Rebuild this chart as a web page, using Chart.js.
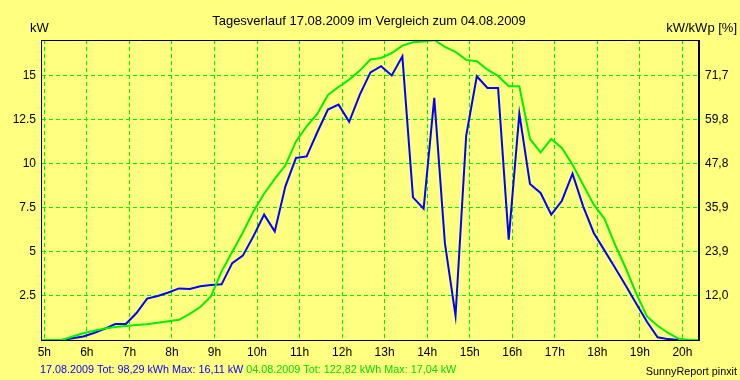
<!DOCTYPE html>
<html><head><meta charset="utf-8">
<script src="https://cdn.jsdelivr.net/npm/chart.js@4.4.0/dist/chart.umd.min.js"></script>
<style>html,body{margin:0;padding:0;background:#FFFF80;}canvas{display:block;}</style>
</head><body>
<canvas id="c" width="740" height="380"></canvas>
<script>
// 15-minute samples
const timeLabels = ['4:55','5:10','5:25','5:40','5:55','6:10','6:25','6:40','6:55','7:10','7:25','7:40','7:55',
  '8:10','8:25','8:40','8:55','9:10','9:25','9:40','9:55','10:10','10:25','10:40','10:55','11:10','11:25','11:40','11:55',
  '12:10','12:25','12:40','12:55','13:10','13:25','13:40','13:55','14:10','14:25','14:40','14:55','15:10','15:25','15:40','15:55',
  '16:10','16:25','16:40','16:55','17:10','17:25','17:40','17:55','18:10','18:25','18:40','18:55','19:10','19:25','19:40','19:55',
  '20:10','20:25'];
// 17.08.2009 (kW)
const blueValues = [0,0,0,0.1,0.2,0.4,0.63,0.91,0.91,1.53,2.35,2.5,2.7,
  2.93,2.9,3.05,3.12,3.16,4.37,4.79,5.9,7.12,6.17,8.73,10.34,10.43,11.8,13.09,13.37,
  12.39,13.94,15.2,15.55,15.03,16.11,8.1,7.46,13.75,5.5,1.38,11.6,14.98,14.32,14.32,5.7,
  12.86,8.86,8.35,7.12,7.91,9.45,7.59,6.08,5.09,4.1,3.1,2.06,1.04,0.15,0.05,0];
// 04.08.2009 (kW)
const greenValues = [0,0,0,0.2,0.38,0.52,0.65,0.74,0.79,0.85,0.9,0.98,1.06,
  1.15,1.49,1.87,2.48,3.9,5.0,6.11,7.31,8.31,9.15,9.92,11.28,12.14,12.84,13.92,14.37,
  14.79,15.3,15.93,16.02,16.3,16.72,16.91,16.95,17.04,16.65,16.36,15.91,15.83,15.36,15.0,14.41,
  14.41,11.42,10.66,11.42,10.91,9.96,8.82,7.69,6.9,5.41,4.09,2.63,1.34,0.81,0.4,0.07,
  0,0];
const hourTicks = [5,6,7,8,9,10,11,12,13,14,15,16,17,18,19,20];
const hourLabels = ['5h','6h','7h','8h','9h','10h','11h','12h','13h','14h','15h','16h','17h','18h','19h','20h'];
const kwTicks = [2.5,5,7.5,10,12.5,15];
const kwLabels = ['2.5','5','7.5','10','12.5','15'];
const pctLabels = ['12,0','23,9','35,9','47,8','59,8','71,7'];
const yMax = 17.04;

const FONT = '"Liberation Sans", Arial, sans-serif';
const toHours = s => { const p = s.split(':').map(Number); return p[0] + p[1] / 60; };
const bluePts = blueValues.map((v, i) => ({x: toHours(timeLabels[i]), y: v}));
const greenPts = greenValues.map((v, i) => ({x: toHours(timeLabels[i]), y: v}));

const textPlugin = {
  id: 'texts',
  beforeDraw(chart) {
    const c = chart.ctx;
    c.save();
    c.fillStyle = '#FFFF80';
    c.fillRect(0, 0, chart.width, chart.height);
    c.restore();
  },
  afterDraw(chart) {
    const c = chart.ctx, a = chart.chartArea;
    c.save();
    c.strokeStyle = '#000'; c.lineWidth = 1;
    c.strokeRect(Math.round(a.left) + 0.5, Math.round(a.top) + 0.5, Math.round(a.right - a.left) - 1, Math.round(a.bottom - a.top));
    c.textBaseline = 'alphabetic';
    c.fillStyle = '#000';
    c.font = '13px ' + FONT;
    c.textAlign = 'center';
    c.fillText('Tagesverlauf 17.08.2009 im Vergleich zum 04.08.2009', 369, 25);
    c.textAlign = 'left';
    c.fillText('kW', 30, 32);
    c.textAlign = 'right';
    c.fillText('kW/kWp [%]', 737, 32);
    c.font = '10.8px ' + FONT;
    c.textAlign = 'left';
    const t1 = '17.08.2009 Tot: 98,29 kWh Max: 16,11 kW';
    const t2 = '04.08.2009 Tot: 122,82 kWh Max: 17,04 kW';
    c.fillStyle = '#0000FF';
    c.fillText(t1, 40, 373);
    c.fillStyle = '#00E000';
    c.fillText(t2, 40 + c.measureText(t1 + ' ').width, 373);
    c.fillStyle = '#000';
    c.textAlign = 'right';
    c.fillText('SunnyReport pinxit', 737, 375);
    c.restore();
  }
};

new Chart(document.getElementById('c'), {
  type: 'line',
  data: {
    datasets: [
      {label: '04.08.2009', data: greenPts, borderColor: '#00F000', borderWidth: 2, pointRadius: 0, tension: 0, fill: false},
      {label: '17.08.2009', data: bluePts, borderColor: '#0000FF', borderWidth: 2, pointRadius: 0, tension: 0, fill: false}
    ]
  },
  plugins: [textPlugin],
  options: {
    responsive: false,
    animation: false,
    events: [],
    layout: {padding: {top: 40, left: 0, right: 0, bottom: 0}},
    plugins: {legend: {display: false}, tooltip: {enabled: false}, title: {display: false}},
    scales: {
      x: {
        type: 'linear', min: 4.922, max: 20.39,
        afterBuildTicks: s => { s.ticks = hourTicks.map(v => ({value: v})); },
        afterFit: s => { s.height = 40; },
        ticks: {callback: (v, i) => hourLabels[i], color: '#000', font: {family: FONT, size: 12}, padding: 5, maxRotation: 0, autoSkip: false},
        grid: {color: '#00F000', lineWidth: 1, drawTicks: false},
        border: {display: true, color: '#000', width: 1, dash: [4, 3]}
      },
      y: {
        type: 'linear', position: 'left', min: 0, max: yMax,
        afterBuildTicks: s => { s.ticks = kwTicks.map(v => ({value: v})); },
        afterFit: s => { s.width = 41; },
        ticks: {callback: (v, i) => kwLabels[i], color: '#000', font: {family: FONT, size: 12}, padding: 5, autoSkip: false},
        grid: {color: '#00F000', lineWidth: 1, drawTicks: false},
        border: {display: true, color: '#000', width: 1, dash: [4, 3]}
      },
      y2: {
        type: 'linear', position: 'right', min: 0, max: yMax,
        afterBuildTicks: s => { s.ticks = kwTicks.map(v => ({value: v})); },
        afterFit: s => { s.width = 41; },
        ticks: {callback: (v, i) => pctLabels[i], color: '#000', font: {family: FONT, size: 12}, padding: 6, autoSkip: false},
        grid: {display: false, drawTicks: false},
        border: {display: true, color: '#000', width: 1}
      }
    }
  }
});
</script>
</body></html>
